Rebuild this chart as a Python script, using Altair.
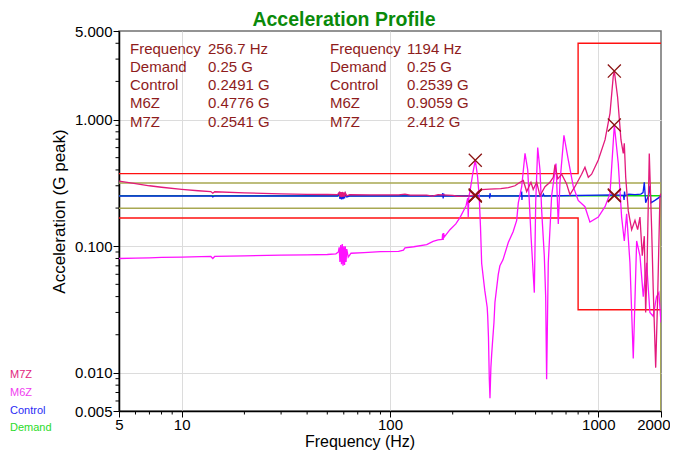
import altair as alt
import pandas as pd

FONT = "Liberation Sans"

# ---------------- data ----------------
demand_freq = [5, 2000]
demand_val = [0.25, 0.25]

control_freq = [5, 14, 14.1, 14.4, 56, 57, 57.5, 58, 58.5, 59, 59.5, 60, 60.5, 61, 62, 64,
                178, 179, 180, 181, 182, 256.7, 300, 301, 302, 304, 428, 429, 430, 431,
                540, 545, 550, 1194, 1320, 1330, 1336, 1345, 1400, 1500, 1600, 1640, 1663,
                1688, 1740, 1769, 1790, 1870, 1977, 2000]
control_val = [0.249, 0.249, 0.245, 0.249, 0.249, 0.262, 0.236, 0.265, 0.234, 0.266, 0.235, 0.262,
               0.238, 0.26, 0.245, 0.249, 0.249, 0.262, 0.238, 0.26, 0.249, 0.2491, 0.249, 0.238,
               0.262, 0.249, 0.249, 0.27, 0.232, 0.249, 0.249, 0.258, 0.249, 0.2539, 0.252, 0.232,
               0.27, 0.25, 0.258, 0.255, 0.258, 0.265, 0.32, 0.22, 0.25, 0.30, 0.22, 0.23, 0.245, 0.25]

m6z_freq = [5, 6, 7, 8, 10, 13.8, 14.1, 14.4, 20, 30, 40, 50, 55, 56.5, 57, 57.5, 58, 58.5, 59,
            59.5, 60, 60.5, 61, 61.5, 62, 63, 65, 75, 90, 110, 116, 118, 130, 150, 161, 170, 178,
            179, 180, 181, 182, 194, 207, 217, 229, 232, 236, 237.5, 239, 242, 250, 256.7, 263,
            268, 272, 275.5, 285, 292.8, 294.5, 297, 299.7, 302, 305, 307.7, 311, 315.6, 319, 331,
            337, 348.6, 369.7, 390, 405.7, 413, 428.8, 444.8, 458.4, 475.4, 493, 500.6, 511.8,
            524.9, 534.8, 550.5, 559, 564.9, 575.3, 597, 626.5, 642.5, 654.7, 684, 717.6, 758.5,
            801, 862.9, 911.7, 1000, 1077, 1138, 1194, 1247, 1294, 1333, 1368, 1419, 1472, 1528,
            1585, 1644, 1706, 1769, 1835, 1904, 1953, 2000]
m6z_val = [0.080, 0.0805, 0.081, 0.0815, 0.082, 0.083, 0.080, 0.083, 0.084, 0.085, 0.0855, 0.086,
           0.087, 0.09, 0.098, 0.075, 0.102, 0.072, 0.104, 0.07, 0.1, 0.071, 0.1, 0.075, 0.095,
           0.082, 0.088, 0.089, 0.0905, 0.091, 0.093, 0.097, 0.099, 0.103, 0.109, 0.112, 0.113,
           0.126, 0.112, 0.127, 0.118, 0.135, 0.15, 0.169, 0.2, 0.21, 0.24, 0.17, 0.245, 0.27,
           0.38, 0.4776, 0.36, 0.25, 0.14, 0.073, 0.045, 0.033, 0.028, 0.019, 0.009, 0.0063,
           0.011, 0.014, 0.018, 0.025, 0.036, 0.06, 0.07, 0.078, 0.107, 0.13, 0.16, 0.22, 0.295,
           0.54, 0.40, 0.12, 0.043, 0.22, 0.60, 0.40, 0.19, 0.084, 0.04, 0.0089, 0.074, 0.25,
           0.45, 0.15, 0.32, 0.75, 0.48, 0.295, 0.23, 0.205, 0.155, 0.17, 0.205, 0.26, 0.9059,
           0.45, 0.17, 0.11, 0.18, 0.074, 0.013, 0.11, 0.084, 0.04, 0.074, 0.030, 0.028, 0.04,
           0.043, 0.025]

m7z_freq = [5, 6, 7, 8, 10, 12, 13.8, 14.1, 14.4, 20, 30, 40, 50, 56, 57, 57.5, 58, 58.5, 59,
            59.5, 60, 60.5, 61, 62, 64, 80, 110, 118, 125, 150, 160, 170, 200, 210, 240, 256.7,
            265, 275, 300, 340, 370, 398, 421, 436.6, 453, 475, 487, 506, 525, 554.6, 586, 608,
            619.6, 638.8, 667, 704.7, 731, 772, 831.7, 862.9, 895.6, 929, 1000, 1077, 1138, 1180,
            1194, 1238, 1285, 1318, 1333, 1354, 1393, 1446, 1500, 1545, 1585, 1626, 1663, 1688,
            1713, 1757, 1804, 1835, 1886, 1928, 1977, 2000]
m7z_val = [0.327, 0.312, 0.30, 0.292, 0.281, 0.274, 0.27, 0.262, 0.269, 0.264, 0.259, 0.257,
           0.256, 0.255, 0.265, 0.245, 0.268, 0.244, 0.268, 0.245, 0.266, 0.246, 0.264, 0.25,
           0.255, 0.254, 0.254, 0.258, 0.253, 0.253, 0.249, 0.255, 0.252, 0.248, 0.25, 0.2541,
           0.27, 0.28, 0.282, 0.285, 0.29, 0.30, 0.32, 0.33, 0.27, 0.32, 0.28, 0.32, 0.25, 0.295,
           0.32, 0.35, 0.44, 0.34, 0.37, 0.31, 0.255, 0.295, 0.37, 0.42, 0.35, 0.37, 0.48, 0.69,
           1.12, 2.2, 2.412, 1.5, 0.69, 0.54, 0.65, 0.35, 0.19, 0.135, 0.16, 0.135, 0.17, 0.084,
           0.12, 0.03, 0.065, 0.54, 0.135, 0.046, 0.011, 0.04, 0.25, 0.26]

abort_hi_freq = [5, 800, 800, 2000]
abort_hi_val = [0.374, 0.374, 4.0, 4.0]
abort_lo_freq = [5, 800, 800, 2000]
abort_lo_val = [0.167, 0.167, 0.0315, 0.0315]
alarm_hi_freq = [5, 2000, 2000]
alarm_hi_val = [0.315, 0.315, 0.005]
alarm_lo_freq = [5, 2000, 2000]
alarm_lo_val = [0.199, 0.199, 0.005]

marker_freq = [256.7, 256.7, 256.7, 256.7, 1194, 1194, 1194, 1194]
marker_val = [0.25, 0.2491, 0.4776, 0.2541, 0.25, 0.2539, 0.9059, 2.412]

cursor_labels = ["Frequency", "Demand", "Control", "M6Z", "M7Z"]
cursor1_values = ["256.7 Hz", "0.25 G", "0.2491 G", "0.4776 G", "0.2541 G"]
cursor2_values = ["1194 Hz", "0.25 G", "0.2539 G", "0.9059 G", "2.412 G"]

legend_names = ["M7Z", "M6Z", "Control", "Demand"]
legend_colors = ["#E2257E", "#F03CF0", "#2A2AF5", "#2ADB2A"]

x_major = [5, 10, 100, 1000, 2000]
x_minor = [6, 7, 8, 9, 20, 30, 40, 50, 60, 70, 80, 90, 200, 300, 400, 500, 600, 700, 800, 900]
y_major = [0.005, 0.01, 0.1, 1, 5]
y_minor = [2, 3, 4, 0.2, 0.3, 0.4, 0.5, 0.6, 0.7, 0.8, 0.9,
           0.02, 0.03, 0.04, 0.05, 0.06, 0.07, 0.08, 0.09, 0.006, 0.007, 0.008, 0.009]

# ---------------- chart ----------------
W, H = 542, 380

xscale = alt.Scale(type="log", domain=[5, 2000], nice=False)
yscale = alt.Scale(type="log", domain=[0.005, 5], nice=False)

xaxis = alt.Axis(values=x_major, format="d", title=None, grid=True,
                 gridColor={"condition": {"test": "datum.value == 5 || datum.value == 2000",
                                          "value": "transparent"}, "value": "#DCDCDC"},
                 tickSize=6, tickColor="black", domainColor="black", domainWidth=1.5,
                 labelFont=FONT, labelFontSize=15, labelColor="black", labelPadding=0,
                 labelFlush=False, labelOverlap=False,
                 labelAlign={"condition": {"test": "datum.value == 2000", "value": "right"},
                             "value": "center"},
                 labelOffset={"condition": {"test": "datum.value == 2000", "value": 9},
                              "value": 0})
yaxis = alt.Axis(values=y_major, format=".3f", title=None, grid=True,
                 gridColor={"condition": {"test": "datum.value == 5 || datum.value == 0.005",
                                          "value": "transparent"}, "value": "#DCDCDC"},
                 tickSize=6, tickColor="black", domainColor="black", domainWidth=1.5,
                 labelFont=FONT, labelFontSize=15, labelColor="black", labelPadding=1,
                 labelFlush=False, labelOverlap=False)

X = alt.X("f:Q", scale=xscale, axis=xaxis)
Y = alt.Y("v:Q", scale=yscale, axis=yaxis)


def line_layer(freqs, vals, color, width=1.3):
    df = pd.DataFrame({"f": freqs, "v": vals, "i": list(range(len(freqs)))})
    return alt.Chart(df).mark_line(color=color, strokeWidth=width, clip=True).encode(
        x=X, y=Y, order="i:Q")


layers = [
    line_layer(alarm_hi_freq, alarm_hi_val, "#A8A852", 1.5),
    line_layer(alarm_lo_freq, alarm_lo_val, "#A8A852", 1.5),
    line_layer(abort_hi_freq, abort_hi_val, "#FF1010", 1.4),
    line_layer(abort_lo_freq, abort_lo_val, "#FF1010", 1.4),
    line_layer(demand_freq, demand_val, "#10DD10", 1.4),
    line_layer(control_freq, control_val, "#0A1EF0", 1.3),
    line_layer(m6z_freq, m6z_val, "#FF10FF", 1.3),
    line_layer(m7z_freq, m7z_val, "#E3197C", 1.3),
]

# markers
mk = pd.DataFrame({"f": marker_freq, "v": marker_val})
layers.append(alt.Chart(mk).mark_point(shape="M-1,-1L1,1M-1,1L1,-1", size=170, filled=False,
                                       stroke="#8B1212", strokeWidth=1.3, opacity=1).encode(x=X, y=Y))

# minor ticks
xm = pd.DataFrame({"f": x_minor})
layers.append(alt.Chart(xm).mark_rule(color="black", strokeWidth=1).encode(
    x=X, y=alt.value(H), y2=alt.value(H + 3.5)))
ym = pd.DataFrame({"v": y_minor})
layers.append(alt.Chart(ym).mark_rule(color="black", strokeWidth=1).encode(
    y=Y, x=alt.value(0), x2=alt.value(-3.5)))

one = alt.Data(values=[{}])
TXT = "#8E1C1C"


def text_layer(text, x, y, **kw):
    return alt.Chart(one).mark_text(text=text, font=FONT, **kw).encode(
        x=alt.value(x), y=alt.value(y))


common = dict(fontSize=15, color=TXT, align="left", baseline="alphabetic", lineHeight=18.3)
layers += [
    text_layer(cursor_labels, 11, 22.5, **common),
    text_layer(cursor1_values, 89, 22.5, **common),
    text_layer(cursor_labels, 211, 22.5, **common),
    text_layer(cursor2_values, 288, 22.5, **common),
    text_layer("Acceleration Profile", 225, -5.5, fontSize=19.5, fontWeight="bold",
               color="#0A8A0A", align="center", baseline="alphabetic"),
    text_layer("Frequency (Hz)", 241, 415.5, fontSize=16, color="black", align="center",
               baseline="alphabetic"),
    text_layer("Acceleration (G peak)", -59, 180.5, fontSize=17, color="black", align="center",
               baseline="middle", angle=270),
]
for k, (name, col) in enumerate(zip(legend_names, legend_colors)):
    layers.append(text_layer(name, -109, 344 + k * 17.8, fontSize=11, color=col,
                             align="left", baseline="middle"))

chart = alt.layer(*layers).properties(
    width=W, height=H,
    autosize=alt.AutoSizeParams(type="none"),
    padding={"left": 111, "top": 23, "right": 9, "bottom": 41},
    background="white",
).configure_view(stroke="#707070", strokeWidth=1.5)

chart.save("out.html", embed_options={"renderer": "svg", "actions": False})
